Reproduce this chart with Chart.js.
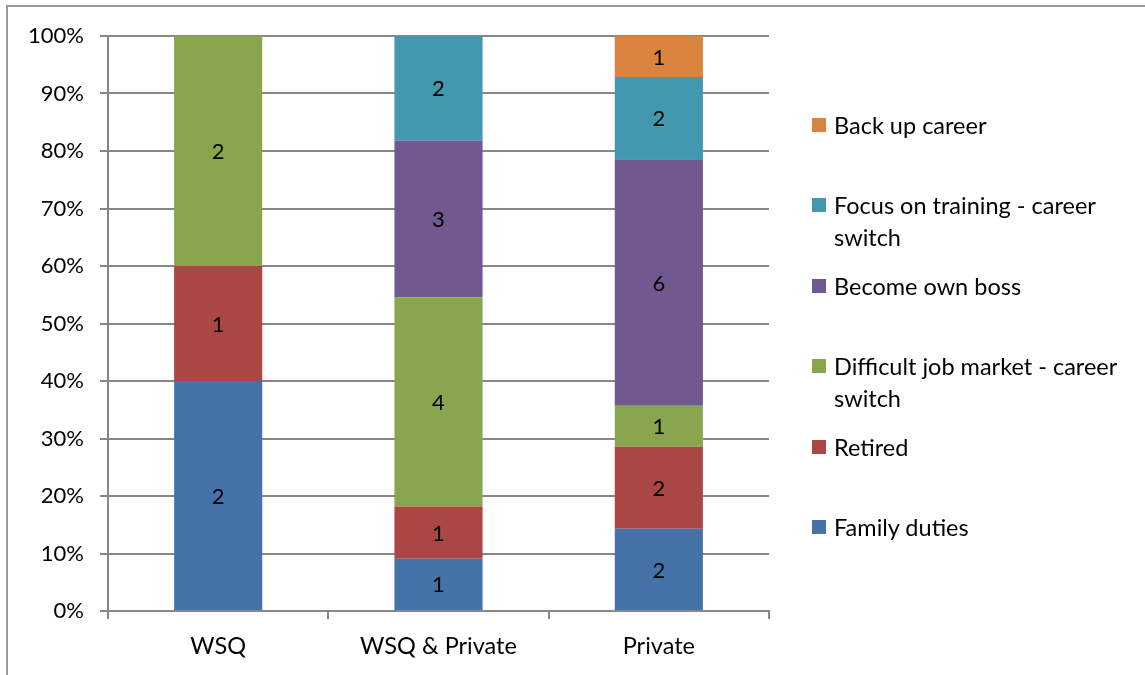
<!DOCTYPE html>
<html>
<head>
<meta charset="utf-8">
<script src="https://cdn.jsdelivr.net/npm/chart.js@4/dist/chart.umd.min.js"></script>
<style>
  html, body { margin: 0; padding: 0; background: #fff; }
  #wrap { position: relative; width: 1145px; height: 675px; overflow: hidden; font-family: Lato, sans-serif; }
  #frame { position: absolute; left: 6px; top: 5px; width: 1200px; height: 700px; border-left: 2px solid #9a9a9a; border-top: 2px solid #9a9a9a; }
  #legend { position: absolute; left: 0; top: 0; }
  .item { position: absolute; left: 812px; font-size: 23.5px; line-height: 32px; color: #000; }
  .item .sw { position: absolute; left: 0; top: 9px; width: 14px; height: 14px; }
  .item .txt { position: absolute; left: 22px; top: 0; white-space: nowrap; }
</style>
</head>
<body>
<div id="wrap">
  <div id="frame"></div>
  <canvas id="chart" width="1145" height="675"></canvas>
  <div id="legend"></div>
</div>
<script>
// categorias y recuentos (cada barra se normaliza a 100%)
const categories = ['WSQ', 'WSQ & Private', 'Private'];

const familyDuties = [2, 1, 2];
const retired = [1, 1, 2];
const difficultJobMarket = [2, 4, 1];
const ownBoss = [0, 3, 6];
const focusTraining = [0, 2, 2];
const backUpCareer = [0, 0, 1];

const seriesNames = ['Family duties', 'Retired', 'Difficult job market - career switch', 'Become own boss', 'Focus on training - career switch', 'Back up career'];
const legendLines = [['Family duties'], ['Retired'], ['Difficult job market - career', 'switch'], ['Become own boss'], ['Focus on training - career', 'switch'], ['Back up career']];
const seriesColors = ['#4572A7', '#AA4643', '#89A54E', '#71588F', '#4198AF', '#DB843D'];
const allCounts = [familyDuties, retired, difficultJobMarket, ownBoss, focusTraining, backUpCareer];

const yTicks = [0, 10, 20, 30, 40, 50, 60, 70, 80, 90, 100];

const totals = categories.map((c, i) => allCounts.reduce((s, arr) => s + arr[i], 0));

const datasets = allCounts.map((counts, k) => ({
  label: seriesNames[k],
  counts: counts,
  data: counts.map((v, i) => v / totals[i] * 100),
  backgroundColor: seriesColors[k],
  borderWidth: 0,
  categoryPercentage: 1,
  barPercentage: 0.4
}));

const FONT = { family: 'Lato, sans-serif', size: 22 };
const XFONT = { family: 'Lato, sans-serif', size: 23.5 };
const GRID = '#878787';

// etiquetas con el recuento en el centro de cada tramo
const countLabels = {
  id: 'countLabels',
  afterDatasetsDraw(chart){
    const ctx = chart.ctx;
    ctx.save();
    ctx.font = `${FONT.size}px ${FONT.family}`;
    ctx.fillStyle = '#000';
    ctx.textAlign = 'center';
    ctx.textBaseline = 'middle';
    chart.data.datasets.forEach((ds, di) => {
      const meta = chart.getDatasetMeta(di);
      meta.data.forEach((bar, i) => {
        const n = ds.counts[i];
        if(!n) return;
        const mid = (bar.y + bar.base) / 2 + 1;
        ctx.fillText(String(n), bar.x, mid);
      });
    });
    ctx.restore();
  }
};

new Chart(document.getElementById('chart').getContext('2d'), {
  type: 'bar',
  data: { labels: categories, datasets },
  plugins: [countLabels],
  options: {
    responsive: false,
    animation: false,
    layout: { padding: { left: 0, top: 36, right: 376, bottom: 0 } },
    plugins: { legend: { display: false }, tooltip: { enabled: false } },
    scales: {
      x: {
        stacked: true,
        afterFit(scale){ scale.height = 64; },
        grid: { display: true, drawOnChartArea: false, color: GRID, tickLength: 8, lineWidth: 2 },
        border: { color: GRID, width: 2 },
        ticks: { color: '#000', font: XFONT, padding: 13 }
      },
      y: {
        stacked: true,
        min: 0,
        max: 100,
        afterFit(scale){ scale.width = 108; },
        afterBuildTicks(scale){ scale.ticks = yTicks.map(v => ({ value: v })); },
        grid: { color: GRID, tickLength: 8, lineWidth: 2 },
        border: { color: GRID, width: 2 },
        ticks: { color: '#000', font: FONT, padding: 16, callback: v => v + '%' }
      }
    }
  }
});

// leyenda en orden inverso, como en el original
const legendEl = document.getElementById('legend');
for(let k = seriesNames.length - 1; k >= 0; k--){
  const pos = seriesNames.length - 1 - k;
  const div = document.createElement('div');
  div.className = 'item';
  div.style.top = (109 + pos * 80.4) + 'px';
  const sw = document.createElement('div');
  sw.className = 'sw';
  sw.style.background = seriesColors[k];
  const txt = document.createElement('div');
  txt.className = 'txt';
  txt.innerHTML = legendLines[k].join('<br>');
  div.appendChild(sw);
  div.appendChild(txt);
  legendEl.appendChild(div);
}
</script>
</body>
</html>
